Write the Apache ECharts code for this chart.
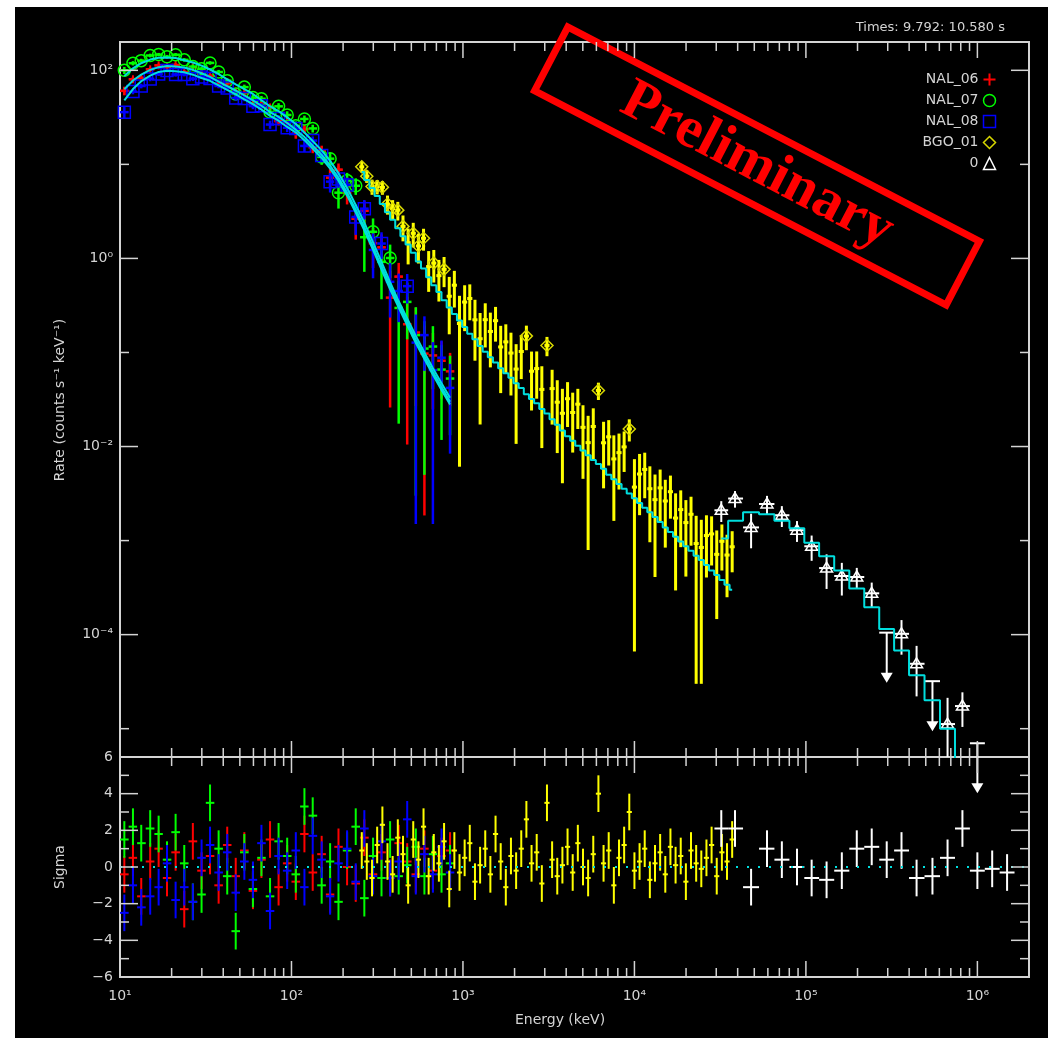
<!DOCTYPE html>
<html>
<head>
<meta charset="utf-8">
<script src="https://cdn.jsdelivr.net/npm/echarts@6/dist/echarts.min.js"></script>
<style>
  html, body { margin: 0; padding: 0; background: #fff; }
  #chart { position: absolute; left: 15px; top: 7px; width: 1033px; height: 1031px; }
</style>
</head>
<body>
<div id="chart"></div>
<script>
// ---- NaI detectors (keV, counts s^-1 keV^-1) ----
const naiEnergy = [10.6, 11.9, 13.3, 15.0, 16.8, 18.8, 21.1, 23.7, 26.6, 29.9, 33.5, 37.6, 42.2, 47.3, 53.1, 59.6, 66.8, 75.0, 84.1, 94.4,
  106, 119, 133, 150, 168, 188, 211, 237, 266, 299, 335, 376, 422, 473, 531, 596, 668, 750, 841]
const naiRelErr = [0.10, 0.06, 0.05, 0.05, 0.045, 0.045, 0.045, 0.045, 0.05, 0.05, 0.05, 0.055, 0.06, 0.06, 0.065, 0.07, 0.075, 0.08, 0.09, 0.10,
  0.11, 0.12, 0.13, 0.15, 0.17, 0.20, 0.25, 0.32, 0.40, 0.50, 0.60, 0.70, 0.80, 0.90, 1.0, 1.05, 1.1, 1.15, 1.2]

const model06 = [63, 78, 90, 101, 108, 111, 110, 107, 101, 93, 85, 76, 68, 61, 54, 48, 42, 36, 32, 27.5,
  23.4, 19.5, 15.8, 12.6, 9.7, 7.2, 5.0, 3.3, 2.14, 1.32, 0.82, 0.51, 0.32, 0.21, 0.136, 0.091, 0.062, 0.043, 0.030]
const model07 = [87, 105, 119, 130, 136, 137, 135, 128, 121, 112, 102, 91, 80, 71, 63, 56, 48, 41.4, 36.8, 31.6,
  26.9, 21.8, 17.7, 14.1, 10.9, 8.06, 5.6, 3.70, 2.40, 1.48, 0.92, 0.56, 0.35, 0.23, 0.150, 0.100, 0.068, 0.047, 0.033]
const model08 = [47.9, 63.2, 76.5, 87.9, 96.1, 98.8, 97.9, 95.2, 89.9, 82.8, 77.4, 69.2, 61.9, 55.5, 49.1, 43.7, 38.2, 32.8, 29.1, 25.0,
  21.8, 18.1, 14.7, 11.7, 9.0, 6.7, 4.65, 3.07, 1.99, 1.23, 0.76, 0.47, 0.30, 0.195, 0.126, 0.085, 0.058, 0.040, 0.028]

const rate06 = [60.5, 80.3, 82.8, 102.5, 112.9, 108, 114, 95.9, 108, 92, 87.6, 71.8, 72.9, 59.2, 57.2, 43.6, 43.3, 40.3, 28.8, 28.1,
  21.3, 23.7, 15.2, 13.9, 7.23, 8.78, 5.0, 2.64, 3.21, 1.45, 1.31, 0.383, 0.64, 0.1995, 0.163, 0.0974, 0.093, 0.0817, 0.063]
const rate07 = [100, 118.9, 126.7, 143.7, 147, 139.5, 146.5, 129.2, 109.5, 103.6, 119.9, 96, 77.6, 56.1, 66.3, 51.3, 49.8, 36.1, 41.4, 33.5,
  25.7, 30.4, 24.1, 12.0, 11.5, 5.0, 6.72, 5.92, 1.68, 1.92, 0.92, 1.01, 0.2975, 0.345, 0.153, 0.11, 0.1156, 0.0658, 0.0528]
const rate08 = [35.9, 59.4, 68.1, 80.9, 91.3, 99.7, 90.0, 90.5, 81.4, 84.9, 82.0, 68.1, 64.9, 50.8, 50.1, 41.6, 41.9, 26.5, 30.7, 24.5,
  24.0, 15.7, 17.9, 12.4, 6.55, 6.97, 6.05, 2.76, 3.38, 1.23, 1.44, 0.564, 0.45, 0.507, 0.1273, 0.153, 0.065, 0.088, 0.042]

const sigma06 = [-0.4, 0.5, -1.6, 0.3, 1.0, -0.6, 0.8, -2.3, 1.4, -0.2, 0.6, -1.0, 1.2, -0.5, 0.9, -1.3, 0.4, 1.5, -1.1, 0.2,
  -0.8, 1.8, -0.3, 0.7, -1.5, 1.1, 0.0, -0.9, 1.6, -0.4, 0.8, -0.6, 1.3, 0.3, -0.4, 1.0, -0.2, 0.6, 0.9]
const sigma07 = [1.5, 2.2, 1.3, 2.1, 1.8, 0.4, 1.9, 0.2, -1.9, -1.5, 3.5, 1.0, -0.5, -3.5, 0.8, -1.2, 0.5, -1.6, 1.4, 0.6,
  -0.4, 3.3, 2.8, -1.0, 0.3, -1.9, 0.9, 2.2, -1.7, 0.6, -0.6, 1.5, -0.5, 0.1, 1.1, -0.5, 0.7, -0.4, 0.2]
const sigma08 = [-2.5, -1.0, -2.2, -1.6, -1.1, 0.2, -1.8, -1.1, -1.9, 0.5, 1.2, -0.3, 0.8, -1.4, 0.3, -0.7, 1.3, -2.4, 0.6, -0.2,
  0.9, -1.1, 1.7, 0.4, -1.6, 0.2, 1.0, -0.8, 2.1, -0.5, 1.4, -0.6, 0.3, 2.6, -0.5, 0.7, -0.4, 1.1, -0.3]

// ---- BGO detector ----
const bgoEnergy = [257, 275, 295, 316, 339, 363, 389, 417, 447, 479, 513, 550, 589, 631, 676, 724, 776, 832, 891, 955,
  1023, 1096, 1175, 1259, 1349, 1445, 1549, 1660, 1778, 1905, 2042, 2188, 2344, 2512, 2692, 2884, 3090, 3311, 3548, 3802,
  4074, 4365, 4677, 5012, 5370, 5754, 6166, 6607, 7079, 7586, 8128, 8710, 9333, 10000, 10715, 11482, 12303, 13183, 14125, 15136,
  16218, 17378, 18621, 19953, 21380, 22909, 24547, 26303, 28184, 30200, 32359, 34674, 37154]
const bgoModel = [8.3, 6.8, 5.6, 4.6, 3.8, 3.1, 2.57, 2.09, 1.72, 1.41, 1.15, 0.93, 0.78, 0.63, 0.52, 0.44, 0.36, 0.30, 0.257, 0.219,
  0.186, 0.158, 0.138, 0.117, 0.102, 0.089, 0.078, 0.068, 0.060, 0.054, 0.047, 0.042, 0.036, 0.032, 0.0288, 0.0251, 0.0224, 0.0195, 0.0170, 0.0148,
  0.0129, 0.0115, 0.0102, 0.0091, 0.0081, 0.0072, 0.0065, 0.0058, 0.0050, 0.0045, 0.0040, 0.00355, 0.00316, 0.00282, 0.00251, 0.00224, 0.0020, 0.00178, 0.00158, 0.00138,
  0.00123, 0.0011, 0.00098, 0.00087, 0.00078, 0.00069, 0.00062, 0.00055, 0.00048, 0.00043, 0.00038, 0.00034, 0.0003]
const bgoRelErr = [0.15, 0.17, 0.19, 0.22, 0.25, 0.28, 0.31, 0.35, 0.39, 0.43, 0.47, 0.51, 0.55, 0.60, 0.65, 0.70, 0.75, 0.80, 0.85, 0.90,
  0.94, 0.98, 1.02, 1.05, 1.08, 1.10, 1.12, 1.14, 1.16, 1.18, 1.19, 1.20, 1.21, 1.22, 1.22, 1.23, 1.23, 1.24, 1.24, 1.25,
  1.25, 1.25, 1.26, 1.26, 1.26, 1.27, 1.27, 1.27, 1.28, 1.28, 1.28, 1.28, 1.29, 1.29, 1.29, 1.29, 1.30, 1.30, 1.30, 1.30,
  1.30, 1.31, 1.31, 1.31, 1.31, 1.31, 1.32, 1.32, 1.32, 1.32, 1.32, 1.33, 1.33]
const bgoRate = [9.42, 7.49, 5.81, 5.81, 5.70, 3.79, 3.37, 3.26, 2.19, 1.47, 1.85, 1.357, 1.638, 0.819, 0.892, 0.656, 0.765, 0.396, 0.519, 0.2032,
  0.3434, 0.3748, 0.2225, 0.140, 0.2232, 0.1673, 0.2178, 0.1145, 0.1296, 0.0986, 0.0666, 0.1025, 0.1493, 0.0632, 0.0674, 0.0405, 0.1188, 0.0413, 0.0296, 0.02257,
  0.03225, 0.023, 0.0282, 0.0160, 0.0110, 0.01634, 0.0395, 0.01096, 0.01268, 0.00738, 0.00861, 0.00991, 0.01539, 0.003704, 0.0051, 0.00571, 0.00356, 0.002724, 0.003634, 0.002636,
  0.003309, 0.001736, 0.002135, 0.001554, 0.001904, 0.00093, 0.000845, 0.001131, 0.001177, 0.000714, 0.000982, 0.000702, 0.000859]
const bgoSigma = [0.9, 0.3, -0.6, 1.2, 2.3, 0.3, -0.4, 1.6, 0.7, -1.0, 1.5, 0.4, 2.2, -0.5, 0.8, 0.2, 1.4, -1.2, 0.9, -0.3,
  0.5, 1.3, -0.8, 0.1, 1.0, -0.4, 1.8, 0.3, -1.1, 0.6, -0.2, 1.0, 2.6, 0.2, 0.8, -0.9, 3.5, 0.4, -0.5, 0.1,
  1.1, -0.3, 1.3, 0.0, -0.6, 0.7, 4.0, 0.2, 0.9, -1.0, 0.5, 1.2, 3.0, -0.2, 0.3, 1.0, -0.7, 0.2, 0.8, -0.4,
  1.1, 0.1, 0.6, -0.8, 0.9, 0.2, -0.1, 0.5, 1.2, -0.5, 0.8, 0.3, 1.5]

// ---- LAT ("0") ----
const latEnergy = [32100, 38600, 47900, 59300, 72400, 88700, 108000, 132000, 162000, 198000, 242000, 296000, 361000, 442000, 547000, 670000, 818000, 1000000]
const latRate = [2.1e-3, 2.8e-3, 1.38e-3, 2.45e-3, 1.86e-3, 1.29e-3, 8.7e-4, 5.1e-4, 4.2e-4, 4.1e-4, 2.75e-4, 1.05e-4, 1.02e-4, 4.9e-5, 3.2e-5, 1.12e-5, 1.74e-5, 7.0e-6]
const latRelErr = [0.25, 0.2, 0.4, 0.22, 0.25, 0.25, 0.3, 0.4, 0.38, 0.25, 0.3, 0, 0.4, 0.55, 0, 0.9, 0.4, 0]
const latUpperLimit = [0, 0, 0, 0, 0, 0, 0, 0, 0, 0, 0, 1, 0, 0, 1, 0, 0, 1]
const latModel = [1.05e-3, 1.62e-3, 2.0e-3, 1.9e-3, 1.62e-3, 1.35e-3, 9.5e-4, 6.8e-4, 4.8e-4, 3.1e-4, 1.95e-4, 1.15e-4, 6.8e-5, 3.7e-5, 2.0e-5, 1.0e-5, 4.5e-6, 1.8e-6]
const latResEnergy = [32100, 38600, 47900, 59300, 72400, 88700, 108000, 132000, 162000, 198000, 242000, 296000, 361000, 442000, 547000, 670000, 818000, 1000000, 1220000, 1490000]
const latSigma = [2.1, 2.1, -1.1, 1.0, 0.4, 0.0, -0.6, -0.7, -0.2, 1.0, 1.1, 0.4, 0.9, -0.6, -0.5, 0.5, 2.1, -0.2, -0.1, -0.3]

// ---- axes ----
const xMajorTicks = [10, 100, 1000, 10000, 100000, 1000000]
const rateMajorTicks = [100, 1, 0.01, 0.0001]
const rateMinorTicks = [10, 0.1, 0.001, 0.00001]
const sigmaMajorTicks = [-6, -4, -2, 0, 2, 4, 6]
const sigmaMinorTicks = [-5, -3, -1, 1, 3, 5]

const FG = '#d4d4d4'
const CYAN = '#00dede'
const supMap = { '-': '\u207b', '0': '\u2070', '1': '\u00b9', '2': '\u00b2', '3': '\u00b3', '4': '\u2074', '5': '\u2075', '6': '\u2076', '7': '\u2077', '8': '\u2078', '9': '\u2079' }
const sup = n => String(n).split('').map(c => supMap[c]).join('')
const isDecade = v => Math.abs(Math.log10(v) - Math.round(Math.log10(v))) < 1e-6
const pow10Label = v => (isDecade(v) ? '10' + sup(Math.round(Math.log10(v))) : '')

function binEdges (e) {
  return e.map((v, i) => {
    const prev = i > 0 ? e[i - 1] : v * v / e[i + 1]
    const next = i < e.length - 1 ? e[i + 1] : v * v / e[i - 1]
    return [Math.sqrt(prev * v), Math.sqrt(v * next)]
  })
}

// [E, Elo, Ehi, rate, rate-err, rate+err, upperLimit, err]
function buildSpec (energy, rate, errBase, relErr, upper) {
  const edges = binEdges(energy)
  return energy.map((e, i) => {
    const err = relErr[i] * errBase[i]
    return [e, edges[i][0], edges[i][1], rate[i], rate[i] - err, rate[i] + err, upper ? upper[i] : 0, err]
  })
}

function buildRes (energy, sigma) {
  const edges = binEdges(energy)
  return energy.map((e, i) => [e, edges[i][0], edges[i][1], sigma[i], sigma[i] - 1, sigma[i] + 1])
}

function markerShape (kind, x, y, color) {
  const s = 6
  const st = { fill: 'none', stroke: color, lineWidth: 1.5 }
  if (kind === 'plus') {
    return { type: 'group', children: [
      { type: 'line', shape: { x1: x - 4, y1: y, x2: x + 4, y2: y }, style: { stroke: color, lineWidth: 2 } },
      { type: 'line', shape: { x1: x, y1: y - 4, x2: x, y2: y + 4 }, style: { stroke: color, lineWidth: 2 } }
    ] }
  }
  if (kind === 'circle') return { type: 'circle', shape: { cx: x, cy: y, r: s }, style: st }
  if (kind === 'square') return { type: 'rect', shape: { x: x - s, y: y - s, width: 2 * s, height: 2 * s }, style: st }
  if (kind === 'diamond') return { type: 'polygon', shape: { points: [[x, y - s], [x + s, y], [x, y + s], [x - s, y]] }, style: st }
  return { type: 'polygon', shape: { points: [[x, y - s], [x + s, y + 4], [x - s, y + 4]] }, style: st }
}

function spectrumRenderer (color, marker, floor, markerColor, minSig, width) {
  return function (params, api) {
    const e = api.value(0)
    const r = api.value(3)
    const c = api.coord([e, r])
    const xl = api.coord([api.value(1), r])[0]
    const xh = api.coord([api.value(2), r])[0]
    const st = { stroke: color, lineWidth: width }
    const kids = [{ type: 'line', shape: { x1: xl, y1: c[1], x2: xh, y2: c[1] }, style: st }]
    if (api.value(6)) {
      // upper limit arrow
      kids.push({ type: 'line', shape: { x1: c[0], y1: c[1], x2: c[0], y2: c[1] + 44 }, style: st })
      kids.push({ type: 'polygon', shape: { points: [[c[0] - 6, c[1] + 40], [c[0] + 6, c[1] + 40], [c[0], c[1] + 50]] }, style: { fill: color } })
    } else {
      const yl = api.coord([e, Math.max(api.value(4), floor)])[1]
      const yh = api.coord([e, api.value(5)])[1]
      kids.push({ type: 'line', shape: { x1: c[0], y1: yl, x2: c[0], y2: yh }, style: st })
      // symbol only on significant bins
      if (r >= minSig * api.value(7)) kids.push(markerShape(marker, c[0], c[1], markerColor || color))
    }
    return { type: 'group', children: kids }
  }
}

function residualRenderer (color) {
  return function (params, api) {
    const s = api.value(3)
    const c = api.coord([api.value(0), s])
    const xl = api.coord([api.value(1), s])[0]
    const xh = api.coord([api.value(2), s])[0]
    const yl = api.coord([api.value(0), api.value(4)])[1]
    const yh = api.coord([api.value(0), api.value(5)])[1]
    const st = { stroke: color, lineWidth: 2 }
    return { type: 'group', children: [
      { type: 'line', shape: { x1: xl, y1: c[1], x2: xh, y2: c[1] }, style: st },
      { type: 'line', shape: { x1: c[0], y1: yl, x2: c[0], y2: yh }, style: st }
    ] }
  }
}

// frame ticks drawn inside both edges of a grid
function xTickRenderer (params, api) {
  const cs = params.coordSys
  const x = api.coord([api.value(0), api.value(1)])[0]
  const len = api.value(2)
  const st = { stroke: FG, lineWidth: 1.5 }
  return { type: 'group', children: [
    { type: 'line', shape: { x1: x, y1: cs.y, x2: x, y2: cs.y + len }, style: st },
    { type: 'line', shape: { x1: x, y1: cs.y + cs.height, x2: x, y2: cs.y + cs.height - len }, style: st }
  ] }
}
function yTickRenderer (params, api) {
  const cs = params.coordSys
  const y = api.coord([api.value(0), api.value(1)])[1]
  const len = api.value(2)
  const st = { stroke: FG, lineWidth: 1.5 }
  return { type: 'group', children: [
    { type: 'line', shape: { x1: cs.x, y1: y, x2: cs.x + len, y2: y }, style: st },
    { type: 'line', shape: { x1: cs.x + cs.width, y1: y, x2: cs.x + cs.width - len, y2: y }, style: st }
  ] }
}

const xMinorTicks = []
xMajorTicks.forEach(d => { for (let m = 2; m <= 9; m++) if (m * d <= 2000000) xMinorTicks.push(m * d) })

function xTickData (yRef) {
  return xMajorTicks.map(v => [v, yRef, 16]).concat(xMinorTicks.map(v => [v, yRef, 9]))
}

const nai06Data = buildSpec(naiEnergy, rate06, model06, naiRelErr)
const nai07Data = buildSpec(naiEnergy, rate07, model07, naiRelErr)
const nai08Data = buildSpec(naiEnergy, rate08, model08, naiRelErr)
const bgoData = buildSpec(bgoEnergy, bgoRate, bgoModel, bgoRelErr)
const latData = buildSpec(latEnergy, latRate, latRate, latRelErr, latUpperLimit)

const zip = (a, b) => a.map((v, i) => [v, b[i]])

function specSeries (name, data, color, marker, floor, markerColor, minSig, width) {
  return { name, type: 'custom', xAxisIndex: 0, yAxisIndex: 0, data, encode: { x: 0, y: 3 },
    renderItem: spectrumRenderer(color, marker, floor, markerColor, minSig, width), itemStyle: { color }, silent: true }
}
function resSeries (name, data, color) {
  return { name, type: 'custom', xAxisIndex: 1, yAxisIndex: 1, data, encode: { x: 0, y: 3 },
    renderItem: residualRenderer(color), itemStyle: { color }, silent: true }
}
function modelSeries (data, step) {
  return { type: 'line', xAxisIndex: 0, yAxisIndex: 0, data, step: step || false, symbol: 'none', silent: true,
    lineStyle: { color: CYAN, width: 2 }, z: 5 }
}

const chart = echarts.init(document.getElementById('chart'))
const labelStyle = { color: FG, fontSize: 14, fontFamily: 'DejaVu Sans' }

const option = {
  animation: false,
  backgroundColor: '#000',
  grid: [
    { left: 105, top: 35, width: 909, height: 715, show: true, borderColor: FG, borderWidth: 2, backgroundColor: 'transparent' },
    { left: 105, top: 750, width: 909, height: 220, show: true, borderColor: FG, borderWidth: 2, backgroundColor: 'transparent' }
  ],
  xAxis: [
    { type: 'log', logBase: 10, min: 10, max: 2000000, gridIndex: 0, axisLine: { show: false }, axisTick: { show: false },
      axisLabel: { show: false }, splitLine: { show: false } },
    { type: 'log', logBase: 10, min: 10, max: 2000000, gridIndex: 1, axisLine: { show: false }, axisTick: { show: false },
      axisLabel: Object.assign({ margin: 12, formatter: pow10Label }, labelStyle), splitLine: { show: false } }
  ],
  yAxis: [
    { type: 'log', logBase: 10, min: 0.000005, max: 200, gridIndex: 0, axisLine: { show: false }, axisTick: { show: false },
      axisLabel: Object.assign({ margin: 7, formatter: v => (Math.round(Math.log10(v)) % 2 === 0 ? pow10Label(v) : '') }, labelStyle),
      splitLine: { show: false } },
    { type: 'value', min: -6, max: 6, interval: 2, gridIndex: 1, axisLine: { show: false }, axisTick: { show: false },
      axisLabel: Object.assign({ margin: 7, formatter: v => String(v).replace('-', '\u2212') }, labelStyle),
      splitLine: { show: false } }
  ],
  legend: {
    orient: 'vertical', right: 45, top: 59, align: 'right', itemWidth: 12, itemHeight: 12, itemGap: 4,
    textStyle: labelStyle, selectedMode: false,
    data: [
      { name: 'NAL_06', icon: 'path://M6,0L6,12M0,6L12,6', itemStyle: { color: 'none', borderColor: '#ff0000', borderWidth: 2 } },
      { name: 'NAL_07', icon: 'circle', itemStyle: { color: 'none', borderColor: '#00ff00', borderWidth: 1.5 } },
      { name: 'NAL_08', icon: 'rect', itemStyle: { color: 'none', borderColor: '#0000ff', borderWidth: 1.5 } },
      { name: 'BGO_01', icon: 'diamond', itemStyle: { color: 'none', borderColor: '#d8d800', borderWidth: 1.5 } },
      { name: '0', icon: 'triangle', itemStyle: { color: 'none', borderColor: '#ffffff', borderWidth: 1.5 } }
    ]
  },
  graphic: [
    { type: 'text', x: 990, y: 21, style: { text: 'Times: 9.792: 10.580 s', fill: FG, font: '13px "DejaVu Sans"', textAlign: 'right', textVerticalAlign: 'middle' } },
    { type: 'text', x: 545, y: 1013, style: { text: 'Energy (keV)', fill: FG, font: '14px "DejaVu Sans"', textAlign: 'center', textVerticalAlign: 'middle' } },
    { type: 'text', x: 45, y: 393, rotation: Math.PI / 2, style: { text: 'Rate (counts s\u207b\u00b9 keV\u207b\u00b9)', fill: FG, font: '14px "DejaVu Sans"', textAlign: 'center', textVerticalAlign: 'middle' } },
    { type: 'text', x: 45, y: 860, rotation: Math.PI / 2, style: { text: 'Sigma', fill: FG, font: '14px "DejaVu Sans"', textAlign: 'center', textVerticalAlign: 'middle' } },
    { type: 'group', x: 742, y: 159, rotation: -0.48, z: 100, children: [
      { type: 'rect', shape: { x: -232, y: -36, width: 464, height: 72 }, style: { fill: 'none', stroke: '#ff0000', lineWidth: 7 } },
      { type: 'text', x: 0, y: 0, style: { text: 'Preliminary', fill: '#ff0000', font: 'bold 58px "Liberation Serif"', textAlign: 'center', textVerticalAlign: 'middle' } }
    ] }
  ],
  series: [
    specSeries('NAL_06', nai06Data, '#ff0000', 'plus', 0.0015, null, 2.5, 2.5),
    specSeries('NAL_07', nai07Data, '#00ff00', 'circle', 0.0015, null, 2.5, 2.5),
    specSeries('NAL_08', nai08Data, '#0000ff', 'square', 0.0015, null, 2.5, 2.5),
    specSeries('BGO_01', bgoData, '#ffff00', 'diamond', 0.00003, '#d8d800', 2.5, 3),
    specSeries('0', latData, '#ffffff', 'triangle', 0.000005, null, 0, 2),
    modelSeries(zip(naiEnergy, model07)),
    modelSeries(zip(naiEnergy, model06)),
    modelSeries(zip(naiEnergy, model08)),
    modelSeries(zip(bgoEnergy, bgoModel), 'middle'),
    modelSeries(zip(latEnergy, latModel), 'middle'),
    {
      type: 'line', xAxisIndex: 1, yAxisIndex: 1, data: [[10, 0], [2000000, 0]], symbol: 'none', silent: true,
      lineStyle: { color: CYAN, width: 2, type: [2, 9] }
    },
    resSeries('NAL_06', buildRes(naiEnergy, sigma06), '#ff0000'),
    resSeries('NAL_07', buildRes(naiEnergy, sigma07), '#00ff00'),
    resSeries('NAL_08', buildRes(naiEnergy, sigma08), '#0000ff'),
    resSeries('BGO_01', buildRes(bgoEnergy, bgoSigma), '#ffff00'),
    resSeries('0', buildRes(latResEnergy, latSigma), '#ffffff'),
    { type: 'custom', xAxisIndex: 0, yAxisIndex: 0, data: xTickData(1), encode: { x: 0, y: 1 }, renderItem: xTickRenderer, silent: true, z: 6 },
    { type: 'custom', xAxisIndex: 1, yAxisIndex: 1, data: xTickData(0), encode: { x: 0, y: 1 }, renderItem: xTickRenderer, silent: true, z: 6 },
    { type: 'custom', xAxisIndex: 0, yAxisIndex: 0, encode: { x: 0, y: 1 }, renderItem: yTickRenderer, silent: true, z: 6,
      data: rateMajorTicks.map(v => [10, v, 18]).concat(rateMinorTicks.map(v => [10, v, 9])) },
    { type: 'custom', xAxisIndex: 1, yAxisIndex: 1, encode: { x: 0, y: 1 }, renderItem: yTickRenderer, silent: true, z: 6,
      data: sigmaMajorTicks.map(v => [10, v, 18]).concat(sigmaMinorTicks.map(v => [10, v, 9])) }
  ]
}
chart.setOption(option)
</script>
</body>
</html>
